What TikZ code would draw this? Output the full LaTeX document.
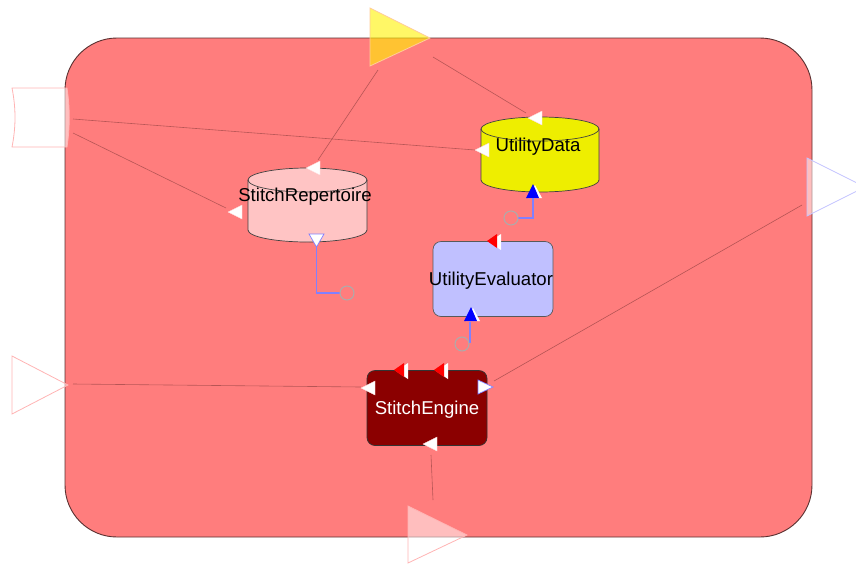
\documentclass[tikz,border=0pt]{standalone}
\usepackage{fontspec}
\setmainfont{Liberation Sans}
\definecolor{ctxfill}{HTML}{FF7D7D}
\definecolor{ctxline}{HTML}{5A3030}
\definecolor{repfill}{HTML}{FFC4C4}
\definecolor{datfill}{HTML}{EEEE00}
\definecolor{evalfill}{HTML}{C0C0FF}
\definecolor{engfill}{HTML}{8B0000}
\definecolor{linkcol}{HTML}{A04848}
\definecolor{wirecol}{HTML}{8080FF}
\definecolor{portpink}{HTML}{FFB4B4}
\definecolor{portblue}{HTML}{C4C4FF}
\begin{document}
\begin{tikzpicture}[x=1pt,y=-1pt,
  frame/.style={fill=ctxfill,draw=ctxline,line width=0.9pt,rounded corners=52pt},
  port/.style={fill=white,fill opacity=0.5,draw=portpink,draw opacity=1,line width=0.8pt},
  cyl/.style={draw=black!75,line width=0.7pt},
  comp/.style={draw=black!65,line width=0.7pt,rounded corners=8pt,minimum width=120pt,minimum height=75pt,
    text height=13.5pt,text depth=0pt,inner sep=0pt,font=\fontsize{18.6}{18.6}\selectfont},
  lbl/.style={inner sep=0pt,text height=13.5pt,text depth=0pt,font=\fontsize{18.6}{18.6}\selectfont},
  link/.style={draw=linkcol,draw opacity=0.75,line width=0.6pt},
  wire/.style={draw=wirecol,line width=1.5pt},
  plug/.style={draw=gray!65,line width=1pt},
  pics/wtri/.style={code={\fill[white,draw=white!85!red,line width=0.4pt] (-7,0) -- (7,-7) -- (7,7) -- cycle;}},
  pics/rtri/.style={code={
    \fill[white] (-5,0) -- (7,-8) -- (7,8) -- cycle;
    \fill[red] (-7,-1) -- (3,-8) -- (3,6) -- cycle;}},
  pics/btri/.style={code={
    \fill[white] (2,-7) -- (9,6) -- (-5,6) -- cycle;
    \fill[blue] (0,-8) -- (6,6) -- (-7,6) -- cycle;}},
]
\useasboundingbox (0,0) rectangle (856,563);
\clip (0,0) rectangle (856,563);

% enclosing context
\path[frame] (65,38) rectangle (812,537);

% boundary ports
\path[port] (12,88) -- (67,88) .. controls (70,108) and (70,127) .. (67,147)
  -- (12,147) .. controls (16,127) and (16,108) .. (12,88) -- cycle;
\path[port] (12,356) -- (68,385) -- (12,414) -- cycle;
\path[port] (408,506) -- (467,535) -- (408,563) -- cycle;
\path[port,draw=portblue] (807,158) -- (865,187) -- (807,216) -- cycle;
\path[fill=yellow,fill opacity=0.6,draw=orange!40,line width=0.8pt] (370,8) -- (430,38) -- (370,66) -- cycle;

% connection points
\coordinate (p1a) at (73,119);
\coordinate (p1b) at (73,133);
\coordinate (ytA) at (378,70);
\coordinate (ytB) at (433,57);
\coordinate (p2) at (73,384);
\coordinate (p3) at (802,205);
\coordinate (p4) at (433,500);
\coordinate (udW) at (475,150);
\coordinate (udN) at (526,113);
\coordinate (srW) at (226,208);
\coordinate (srN) at (318,160);
\coordinate (seW) at (361,387);
\coordinate (seE) at (494,381);
\coordinate (seS) at (431,455);

% links
\draw[link] (p1a) -- (udW);
\draw[link] (p1b) -- (srW);
\draw[link] (ytA) -- (srN);
\draw[link] (ytB) -- (udN);
\draw[link] (p2) -- (seW);
\draw[link] (p3) -- (seE);
\draw[link] (p4) -- (seS);

% StitchRepertoire store
\path[cyl,fill=repfill] (248,180) -- (248,230) arc[start angle=180,end angle=360,x radius=59.5pt,y radius=12pt]
  -- (367,180) arc[start angle=0,end angle=180,x radius=59.5pt,y radius=12pt] -- cycle;
\draw[cyl] (248,180) arc[start angle=180,end angle=360,x radius=59.5pt,y radius=12pt];
\node[lbl] (sr) at (305,195) {StitchRepertoire};

% UtilityData store
\path[cyl,fill=datfill] (481,129) -- (481,180) arc[start angle=180,end angle=360,x radius=59pt,y radius=12pt]
  -- (599,129) arc[start angle=0,end angle=180,x radius=59pt,y radius=12pt] -- cycle;
\draw[cyl] (481,129) arc[start angle=180,end angle=360,x radius=59pt,y radius=12pt];
\node[lbl] (ud) at (538,145) {UtilityData};

% components (fixed size, the label may run over the edge)
\node[comp,fill=evalfill] (ue) at (493,279) {\makebox[0pt]{\hspace*{-4pt}UtilityEvaluator}};
\node[comp,fill=engfill,text=white,draw=black!80] (se) at (427,408) {\makebox[0pt]{StitchEngine}};

% required interfaces
\coordinate (srP) at (316.5,247);
\coordinate (srC) at (347,293);
\coordinate (udP) at (533,198);
\coordinate (udC) at (511,218);
\coordinate (ueP) at (470,322);
\coordinate (ueC) at (462,344);
\draw[wire] (srP) |- ([xshift=-7pt]srC);
\draw[plug] (srC) circle[radius=7pt];
\draw[wire] (udP) |- ([xshift=7pt]udC);
\draw[plug] (udC) circle[radius=7pt];
\draw[wire] (ueP) -- (470,343);
\draw[plug] (ueC) circle[radius=7pt];

% port glyphs
\pic at (535,118) {wtri};
\pic at (482,150) {wtri};
\pic at (313,168) {wtri};
\pic at (235,212) {wtri};
\pic at (368,388) {wtri};
\pic at (430,444) {wtri};
\filldraw[fill=white,draw=wirecol,line width=0.7pt] (478,380) -- (493,387) -- (478,394) -- cycle;
\filldraw[fill=white,draw=wirecol,line width=0.7pt] (309,234) -- (324,234) -- (316.5,247) -- cycle;
\pic at (494,242) {rtri};
\pic at (401,371) {rtri};
\pic at (441,371) {rtri};
\pic at (533,192) {btri};
\pic at (471,315) {btri};
\end{tikzpicture}
\end{document}
